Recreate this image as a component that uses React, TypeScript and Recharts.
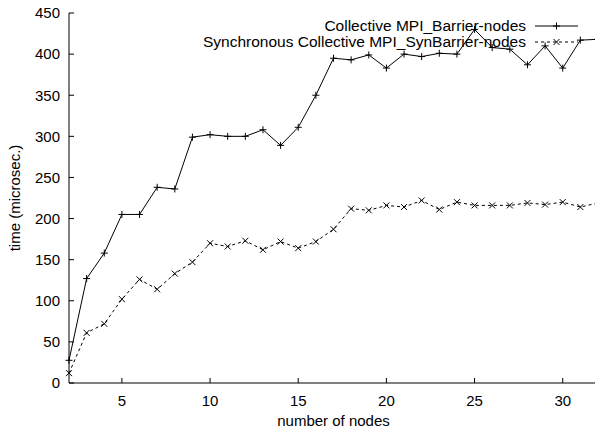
import React from 'react';
import { LineChart, Line, XAxis, YAxis, Legend } from 'recharts';

const nodes = [2, 3, 4, 5, 6, 7, 8, 9, 10, 11, 12, 13, 14, 15, 16, 17, 18, 19, 20, 21, 22, 23, 24, 25, 26, 27, 28, 29, 30, 31, 32];
const collective = [27.6, 127, 158, 205, 205, 238, 236, 299, 302, 300, 300, 308, 289, 311, 350, 395, 393, 399, 383, 400, 397, 401, 400, 430, 408, 406, 387, 410, 383, 417, 418];
const synchronous = [12, 61, 72, 102, 126, 114, 133, 147, 170, 166, 173, 162, 172, 164, 172, 187, 212, 210, 216, 214, 222, 211, 220, 216, 216, 216, 219, 217, 220, 214, 219];
const xTicks = [5, 10, 15, 20, 25, 30];
const yTicks = [0, 50, 100, 150, 200, 250, 300, 350, 400, 450];
const seriesNames = ['Collective MPI_Barrier-nodes', 'Synchronous Collective MPI_SynBarrier-nodes'];

const data = nodes.map((n, i) => ({ n, c: collective[i], s: synchronous[i] }));

const FONT = '"Liberation Sans", Arial, Helvetica, sans-serif';

const PlusDot = (p: any) => {
  const { cx, cy, index } = p;
  if (cx == null || cy == null) return <g key={index} />;
  return <path key={index} d={`M${cx - 3.5},${cy}h7M${cx},${cy - 3.5}v7`} stroke="#000" strokeWidth={1} fill="none" />;
};

const CrossDot = (p: any) => {
  const { cx, cy, index } = p;
  if (cx == null || cy == null) return <g key={index} />;
  return <path key={index} d={`M${cx - 3},${cy - 3}l6,6M${cx - 3},${cy + 3}l6,-6`} stroke="#000" strokeWidth={1} fill="none" />;
};

const LegendContent = () => (
  <div style={{ fontFamily: FONT, fontSize: 15.5, color: '#000' }}>
    {seriesNames.map((name, i) => (
      <div key={name} style={{ display: 'flex', justifyContent: 'flex-end', alignItems: 'center', height: 16, lineHeight: '16px', whiteSpace: 'nowrap' }}>
        <span>{name}</span>
        <svg width={52} height={16} style={{ display: 'block' }}>
          <line x1={9} y1={8} x2={52} y2={8} stroke="#000" strokeWidth={1} strokeDasharray={i === 1 ? '3 3' : undefined} />
          {i === 0 ? (
            <path d="M27,8h7M30.5,4.5v7" stroke="#000" fill="none" />
          ) : (
            <path d="M27.5,5l6,6M27.5,11l6,-6" stroke="#000" fill="none" />
          )}
        </svg>
      </div>
    ))}
  </div>
);

export default function App() {
  const tickStyle = { fill: '#000', fontSize: 15, fontFamily: FONT };
  return (
    <div style={{ position: 'absolute', left: 0, top: 0, width: 595, height: 428, overflow: 'hidden', background: '#fff' }}>
      <LineChart width={603} height={428} data={data} margin={{ top: 13, right: 0, bottom: 0, left: 0 }}>
        <XAxis
          xAxisId="bottom"
          dataKey="n"
          type="number"
          domain={[2, 32]}
          ticks={xTicks}
          height={45}
          tickSize={-5}
          tickMargin={17}
          axisLine={{ stroke: '#000' }}
          tickLine={{ stroke: '#000' }}
          tick={tickStyle}
          label={{ value: 'number of nodes', position: 'insideBottom', offset: 2, style: { fill: '#000', fontSize: 15, fontFamily: FONT } }}
        />
        <XAxis
          xAxisId="top"
          orientation="top"
          dataKey="n"
          type="number"
          domain={[2, 32]}
          ticks={xTicks}
          height={0}
          tickSize={-5}
          axisLine={{ stroke: '#000' }}
          tickLine={{ stroke: '#000' }}
          tick={() => <g />}
        />
        <YAxis
          yAxisId="left"
          type="number"
          domain={[0, 450]}
          ticks={yTicks}
          width={69}
          tickSize={-5}
          tickMargin={14}
          axisLine={{ stroke: '#000' }}
          tickLine={{ stroke: '#000' }}
          tick={tickStyle}
          label={{ value: 'time (microsec.)', angle: -90, position: 'insideLeft', offset: 15, style: { fill: '#000', fontSize: 15, fontFamily: FONT, textAnchor: 'middle' } }}
        />
        <YAxis
          yAxisId="right"
          orientation="right"
          type="number"
          domain={[0, 450]}
          ticks={yTicks}
          width={5}
          tickSize={-5}
          axisLine={{ stroke: '#000' }}
          tickLine={{ stroke: '#000' }}
          tick={() => <g />}
        />
        <Legend
          layout="horizontal"
          align="center"
          verticalAlign="middle"
          content={LegendContent}
          wrapperStyle={{ position: 'absolute', top: 18, left: 188, width: 390, height: 32 }}
        />
        <Line
          xAxisId="bottom"
          yAxisId="left"
          type="linear"
          dataKey="c"
          name={seriesNames[0]}
          stroke="#000"
          strokeWidth={1}
          dot={PlusDot}
          activeDot={false}
          isAnimationActive={false}
        />
        <Line
          xAxisId="bottom"
          yAxisId="left"
          type="linear"
          dataKey="s"
          name={seriesNames[1]}
          stroke="#000"
          strokeWidth={1}
          strokeDasharray="3 3"
          dot={CrossDot}
          activeDot={false}
          isAnimationActive={false}
        />
      </LineChart>
    </div>
  );
}
